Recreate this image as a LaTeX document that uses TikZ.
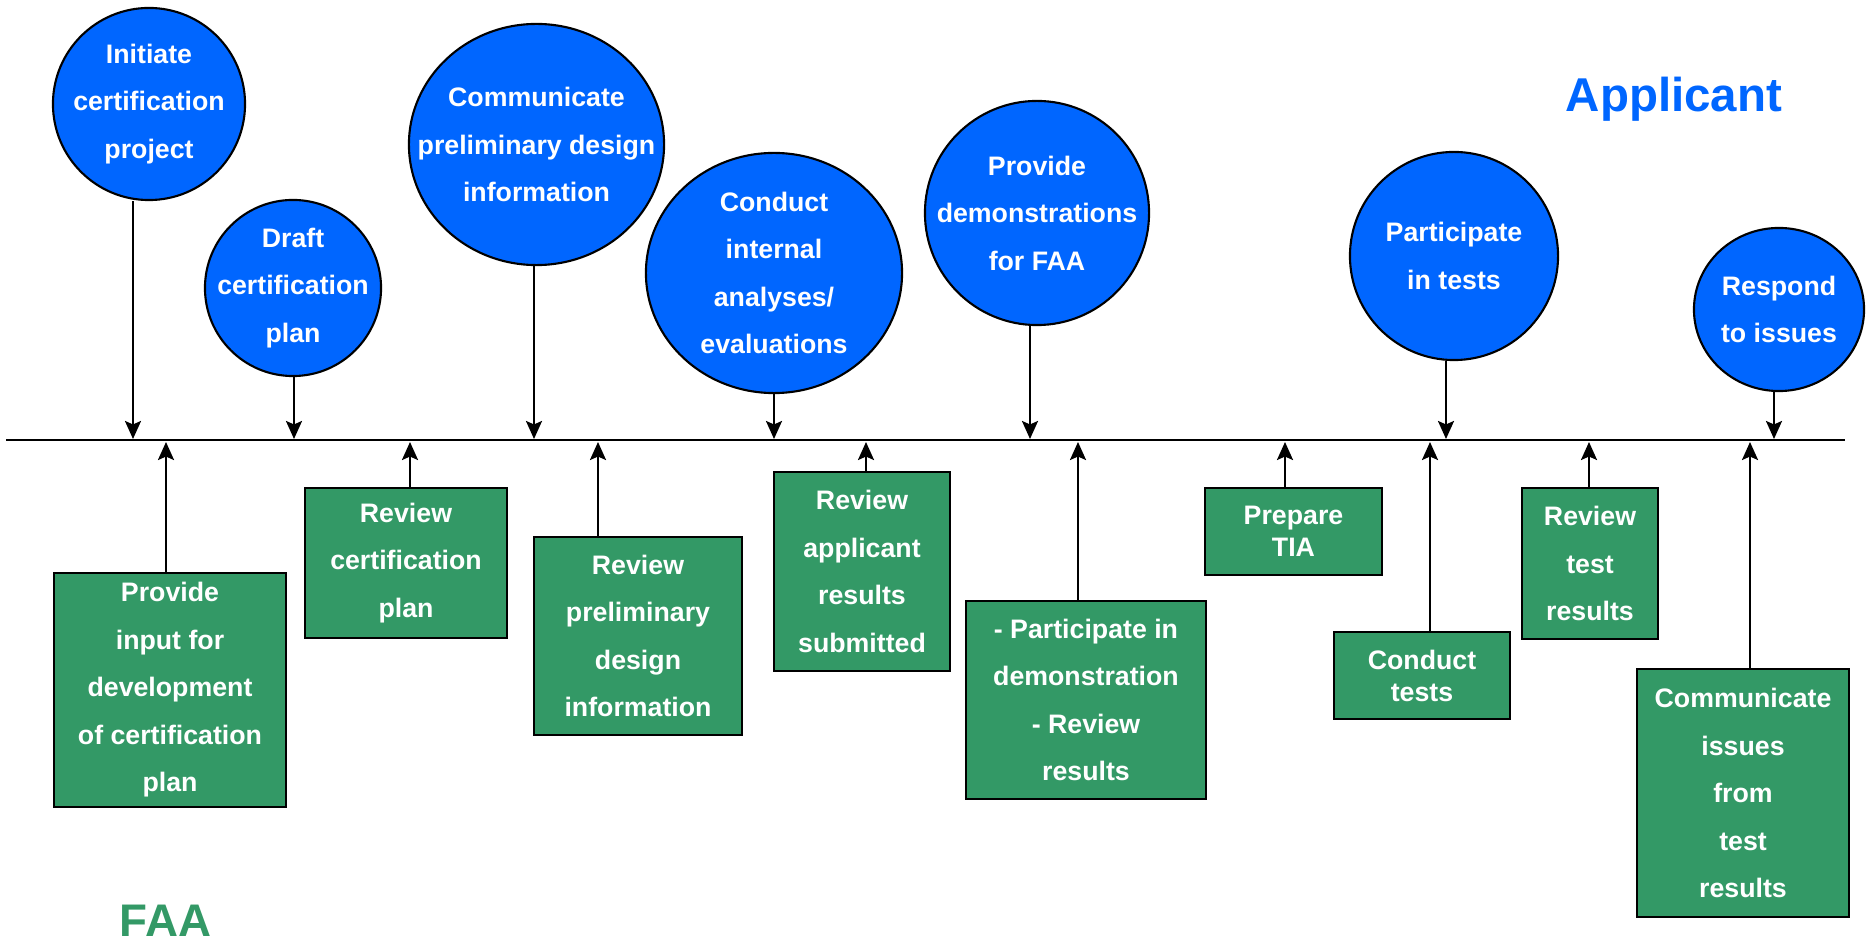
\documentclass[tikz,border=0pt]{standalone}
\usepackage{fontspec}
\setmainfont{Liberation Sans}
\usetikzlibrary{shapes.geometric,arrows.meta}
\definecolor{appblue}{RGB}{0,102,255}
\definecolor{faagreen}{RGB}{51,153,102}
\newcommand\dgbody{\fontsize{7.6}{13.5}\selectfont\bfseries}
\newcommand\dgtight{\fontsize{7.6}{9.1}\selectfont\bfseries}
\newcommand\dgbig{\fontsize{13.5}{16}\selectfont\bfseries}
\pgfdeclarelayer{back}
\pgfdeclarelayer{bg}
\pgfsetlayers{back,bg,main}
\begin{document}
\begin{tikzpicture}[x=0.01cm,y=-0.01cm,
  bub/.style={ellipse, draw=black, line width=0.6pt, fill=appblue, inner sep=0pt},
  bubtext/.style={text=white, inner sep=0pt, align=center, font=\dgbody},
  box/.style={rectangle, draw=black, line width=0.75pt, fill=faagreen, text=white, inner sep=0pt, align=center, font=\dgbody},
  tightbox/.style={box, font=\dgtight},
  conn/.style={line width=0.7pt, -{Stealth[length=0.18cm,width=0.16cm,inset=0.035cm]}},
  timeline/.style={line width=0.65pt}
]
\begin{pgfonlayer}{back}
  \path[use as bounding box, fill=white] (0,0) rectangle (1869,943);
\end{pgfonlayer}

% timeline
\coordinate (L) at (6,440);
\coordinate (R) at (1845,440);
\draw[timeline] (L) -- (R);

% Applicant side (ellipses)
\node[bub, minimum width=1.92cm, minimum height=1.92cm] (e1) at (149,104) {};
\node[bubtext] (e1t) at (e1) {Initiate\\certification\\project};
\node[bub, minimum width=1.76cm, minimum height=1.76cm] (e2) at (293,288) {};
\node[bubtext] (e2t) at (e2) {Draft\\certification\\plan};
\node[bub, minimum width=2.55cm, minimum height=2.41cm] (e3) at (536.5,144.5) {};
\node[bubtext] (e3t) at (e3) {Communicate\\preliminary design\\information};
\node[bub, minimum width=2.56cm, minimum height=2.40cm] (e4) at (774,273) {};
\node[bubtext] (e4t) at (e4) {Conduct\\internal\\analyses/\\evaluations};
\node[bub, minimum width=2.24cm, minimum height=2.24cm] (e5) at (1037,213) {};
\node[bubtext] (e5t) at (e5) {Provide\\demonstrations\\for FAA};
\node[bub, minimum width=2.08cm, minimum height=2.08cm] (e6) at (1454,256) {};
\node[bubtext] (e6t) at (e6) {Participate\\in tests};
\node[bub, minimum width=1.70cm, minimum height=1.63cm] (e7) at (1779,309.5) {};
\node[bubtext] (e7t) at (e7) {Respond\\to issues};

% FAA side (boxes)
\node[box, minimum width=2.32cm, minimum height=2.34cm] (r1) at (170,690) {Provide\\input for\\development\\of certification\\plan};
\node[box, minimum width=2.02cm, minimum height=1.50cm] (r2) at (406,563) {Review\\certification\\plan};
\node[box, minimum width=2.08cm, minimum height=1.98cm] (r3) at (638,636) {Review\\preliminary\\design\\information};
\node[box, minimum width=1.76cm, minimum height=1.99cm] (r4) at (862,571.5) {Review\\applicant\\results\\submitted};
\node[box, minimum width=2.40cm, minimum height=1.98cm] (r5) at (1086,700) {- Participate in\\demonstration\\- Review\\results};
\node[tightbox, minimum width=1.77cm, minimum height=0.87cm] (r6) at (1293.5,531.5) {Prepare\\TIA};
\node[tightbox, minimum width=1.76cm, minimum height=0.87cm] (r7) at (1422,675.5) {Conduct\\tests};
\node[box, minimum width=1.36cm, minimum height=1.51cm] (r8) at (1590,563.5) {Review\\test\\results};
\node[box, minimum width=2.12cm, minimum height=2.48cm] (r9) at (1743,793) {Communicate\\issues\\from\\test\\results};

% side labels
\node[font=\dgbig, text=appblue, anchor=base, inner sep=0pt] (app) at (1674,112) {Applicant};
\node[font=\fontsize{13}{16}\selectfont\bfseries, text=faagreen, anchor=base, inner sep=0pt] (faa) at (165.5,936) {FAA};

% arrow targets on the timeline
\coordinate (a1) at (133,439);
\coordinate (a2) at (294,439);
\coordinate (a3) at (534,439);
\coordinate (a4) at (774,439);
\coordinate (a5) at (1030,439);
\coordinate (a6) at (1446,439);
\coordinate (a7) at (1774,439);
\coordinate (b1) at (166,442);
\coordinate (b2) at (410,442);
\coordinate (b3) at (598,442);
\coordinate (b4) at (866,442);
\coordinate (b5) at (1078,442);
\coordinate (b6) at (1285,442);
\coordinate (b7) at (1430,442);
\coordinate (b8) at (1589,442);
\coordinate (b9) at (1750,442);

\begin{pgfonlayer}{bg}
  \draw[conn] (e1.south -| a1) -- (a1);
  \draw[conn] (e2.south -| a2) -- (a2);
  \draw[conn] (e3.south -| a3) -- (a3);
  \draw[conn] (e4.south -| a4) -- (a4);
  \draw[conn] (e5.south -| a5) -- (a5);
  \draw[conn] (e6.south -| a6) -- (a6);
  \draw[conn] (e7.south -| a7) -- (a7);
  \draw[conn] (r1.north -| b1) -- (b1);
  \draw[conn] (r2.north -| b2) -- (b2);
  \draw[conn] (r3.north -| b3) -- (b3);
  \draw[conn] (r4.north -| b4) -- (b4);
  \draw[conn] (r5.north -| b5) -- (b5);
  \draw[conn] (r6.north -| b6) -- (b6);
  \draw[conn] (r7.north -| b7) -- (b7);
  \draw[conn] (r8.north -| b8) -- (b8);
  \draw[conn] (r9.north -| b9) -- (b9);
\end{pgfonlayer}
\end{tikzpicture}
\end{document}
